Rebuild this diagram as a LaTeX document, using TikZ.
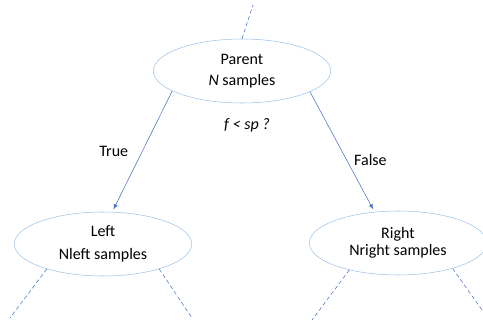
\documentclass[tikz,border=0pt]{standalone}
\usepackage{fontspec}
\setmainfont{Carlito}
\usetikzlibrary{positioning,shapes.geometric}
\definecolor{edgeblue}{RGB}{68,114,196}
\definecolor{nodeblue}{RGB}{157,195,230}
\tikzset{
    treenode/.style={draw=nodeblue, ellipse, minimum width=133pt, minimum height=48pt,
        inner sep=0pt, align=center, font=\fontsize{12}{15}\selectfont},
    branch/.style={edgeblue, -latex, shorten >=2pt},
    subtree/.style={edgeblue, dashed, dash pattern=on 3pt off 2pt},
    cond/.style={text=black, font=\fontsize{12}{14}\selectfont}
}
\begin{document}
\begin{tikzpicture}[x=0.75pt, y=-0.75pt]
    \useasboundingbox (0,0) rectangle (483,325);

    % Nodes
    \node[treenode] (parent) at (242,71) {Parent\\[1pt]\textit{N} samples};
    \node[treenode] (left) at (103,244) {Left\\[2pt]Nleft samples};
    \node[treenode] (right) at (398,243) {Right\\[-2pt]Nright samples};

    % Split
    \draw[branch] (parent.196) -- (left.74) node[cond, midway, left=7pt] {True};
    \draw[branch] (parent.-17) -- (right.127) node[cond, pos=0.57, right=2pt] {False};
    \node[cond] (split) at (247,125) {\itshape f < sp ?};

    % Rest of the tree
    \coordinate (up) at (253,5);
    \coordinate (ll) at (10,318);
    \coordinate (lr) at (192,318);
    \coordinate (rl) at (312,320);
    \coordinate (rr) at (482,310);
    \draw[subtree] (parent.north) -- (up);
    \draw[subtree] (left.204) -- (ll);
    \draw[subtree] (left.-24) -- (lr);
    \draw[subtree] (right.209) -- (rl);
    \draw[subtree] (right.-25) -- (rr);
\end{tikzpicture}
\end{document}
